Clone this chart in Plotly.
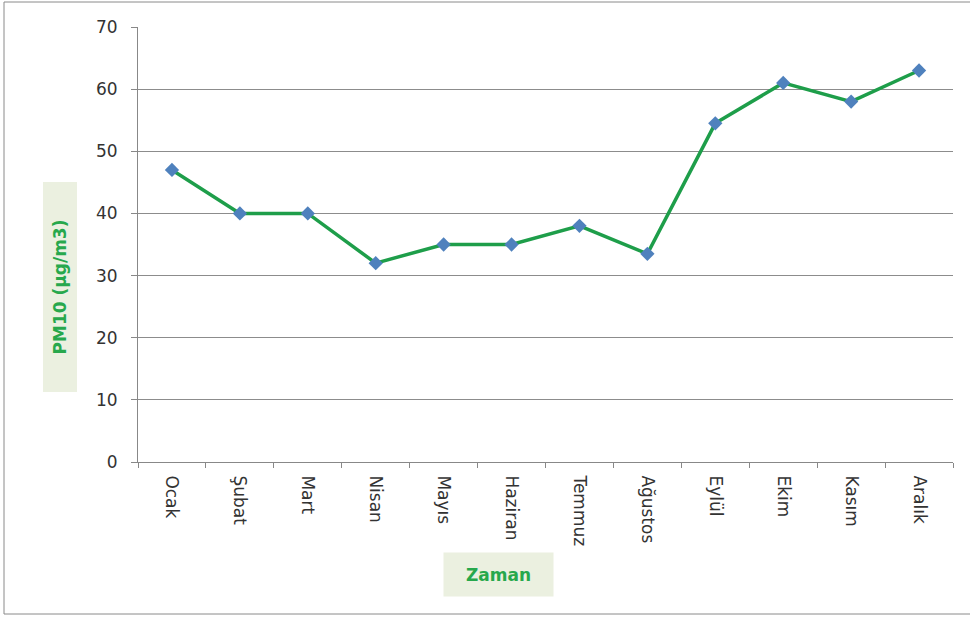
import plotly.graph_objects as go

months = ["Ocak", "Şubat", "Mart", "Nisan", "Mayıs", "Haziran", "Temmuz",
          "Ağustos", "Eylül", "Ekim", "Kasım", "Aralık"]
pm10 = [47, 40, 40, 32, 35, 35, 38, 33.5, 54.5, 61, 58, 63]
y_ticks = [0, 10, 20, 30, 40, 50, 60, 70]

W, H = 970, 617
L, R, T, B = 138, 17, 27, 155
pw, ph = W - L - R, H - T - B

def px(x):
    return (x - L) / pw

def py(y):
    return (H - B - y) / ph

fig = go.Figure()
fig.add_trace(go.Scatter(
    x=months, y=pm10, mode="lines+markers",
    line=dict(color="#1E9E4A", width=3.5),
    marker=dict(symbol="diamond", size=11, color="#4F81BD"),
    showlegend=False,
))

font_family = "DejaVu Sans, sans-serif"
title_color = "#27A84C"
box_color = "#EBF0E0"
tick_color = "#333"

fig.update_layout(
    width=W, height=H,
    margin=dict(l=L, r=R, t=T, b=B),
    paper_bgcolor="white", plot_bgcolor="white",
    font=dict(family=font_family, size=17, color=tick_color),
    xaxis=dict(
        type="category", tickangle=90, tickson="boundaries",
        ticks="outside", ticklen=5, tickcolor="#888",
        showline=True, linecolor="#888", linewidth=1,
        showgrid=False, range=[-0.5, 11.5],
        tickfont=dict(size=17, color=tick_color),
        ticklabelstandoff=9,
    ),
    yaxis=dict(
        range=[0, 70], tickvals=y_ticks,
        ticks="outside", ticklen=6, tickcolor="#888",
        showline=True, linecolor="#888", linewidth=1,
        showgrid=True, gridcolor="#8c8c8c", gridwidth=1,
        zeroline=False, tickfont=dict(size=17, color=tick_color),
        ticklabelstandoff=10,
    ),
    shapes=[dict(
        type="rect", xref="paper", yref="paper",
        x0=px(4), x1=px(972), y0=py(614), y1=py(2),
        line=dict(color="#8a8a8a", width=1), fillcolor="rgba(0,0,0,0)",
        layer="below",
    )],
    annotations=[
        dict(
            text="<b>PM10 (µg/m3)</b>", xref="paper", yref="paper",
            x=px(59.5), y=py(287), xanchor="center", yanchor="middle",
            textangle=-90, showarrow=False,
            font=dict(size=17, color=title_color, family=font_family),
            bgcolor=box_color, width=207, height=31,
        ),
        dict(
            text="<b>Zaman</b>", xref="paper", yref="paper",
            x=px(498.5), y=py(574.5), xanchor="center", yanchor="middle",
            showarrow=False,
            font=dict(size=17, color=title_color, family=font_family),
            bgcolor=box_color, width=107, height=41,
        ),
    ],
)

fig.write_html(
    "out.html",
    config={"displayModeBar": False},
    post_script="document.body.style.margin='0px';document.body.style.overflow='hidden';",
)
